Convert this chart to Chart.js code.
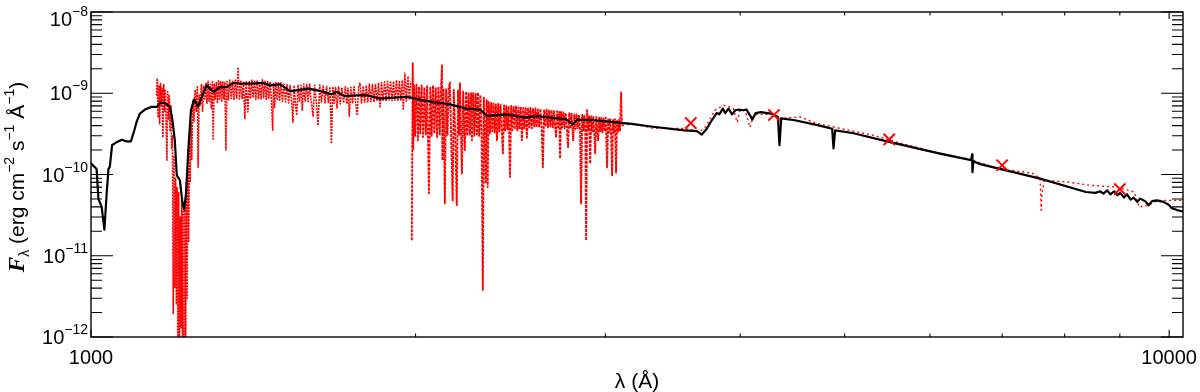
<!DOCTYPE html>
<html>
<head>
<meta charset="utf-8">
<script src="https://cdn.jsdelivr.net/npm/chart.js@4/dist/chart.umd.min.js"></script>
<style>
html,body{margin:0;padding:0;background:#fff;}
#wrap{width:1200px;height:392px;position:relative;}
canvas{display:block;}
</style>
</head>
<body>
<div id="wrap"><canvas id="c" width="1200" height="392"></canvas></div>
<script>
// ---------- DATA (wavelength in Å, flux in erg cm^-2 s^-1 Å^-1) ----------
const xTickLabels = ["1000", "10000"];
const xMajorTicks = [1000, 10000];
const xMinorTicks = [2000, 3000, 4000, 5000, 6000, 7000, 8000, 9000];
const yMajorTicks = [1e-8, 1e-9, 1e-10, 1e-11, 1e-12];
const yTickExponents = ["\u22128", "\u22129", "\u221210", "\u221211", "\u221212"];

// photometric points (red crosses)
const photWave = [3600, 4300, 5500, 7000, 9000];
const photFlux = [4.3e-10, 5.4e-10, 2.7e-10, 1.3e-10, 6.6e-11];

// model spectrum (black)
const modelSpectrum = [
[1000,1.37e-10],[1012,1.17e-10],[1016,5.0e-11],[1023,4.0e-11],[1029,2.1e-11],[1034,5.8e-11],[1038,1.17e-10],
[1041,1.24e-10],[1046,2.29e-10],[1056,2.5e-10],[1068,2.68e-10],[1079,2.55e-10],[1089,2.55e-10],[1097,3.5e-10],
[1102,4.4e-10],[1110,5.6e-10],[1122,6.3e-10],[1138,6.8e-10],[1151,6.8e-10],[1159,7.6e-10],[1171,7.6e-10],
[1184,6.8e-10],[1190,4.65e-10],[1196,2.64e-10],[1201,9.8e-11],[1209,8.5e-11],[1215,4.8e-11],[1220,3.7e-11],
[1225,5.8e-11],[1231,2.0e-10],[1238,6.2e-10],[1246,8.35e-10],[1257,6.9e-10],[1266,8.85e-10],[1280,1.25e-9],
[1299,1.04e-9],[1317,1.19e-9],[1336,1.19e-9],[1355,1.34e-9],[1384,1.31e-9],[1409,1.31e-9],[1445,1.34e-9],
[1466,1.25e-9],[1497,1.29e-9],[1530,1.06e-9],[1557,1.09e-9],[1590,1.14e-9],[1631,1.07e-9],[1671,9.7e-10],
[1690,1.04e-9],[1720,9.2e-10],[1764,9.44e-10],[1802,9.44e-10],[1854,8.6e-10],[1907,8.85e-10],[1970,9.0e-10],
[2019,8.35e-10],[2078,7.77e-10],[2152,7.3e-10],[2230,6.48e-10],[2295,6.3e-10],[2331,5.23e-10],[2363,5.35e-10],
[2430,5.5e-10],[2520,5.02e-10],[2592,5.23e-10],[2665,5.02e-10],[2754,4.83e-10],[2800,4.15e-10],[2825,4.74e-10],
[2930,4.65e-10],[3018,4.47e-10],[3173,4.2e-10],[3306,3.9e-10],[3550,3.5e-10],[3648,3.42e-10],[3686,3.1e-10],
[3725,3.66e-10],[3765,4.65e-10],[3805,5.7e-10],[3826,5.5e-10],[3855,6.48e-10],[3874,5.7e-10],[3902,6.48e-10],
[3931,5.5e-10],[3960,6.17e-10],[3988,6.3e-10],[4026,6.17e-10],[4055,6.3e-10],[4085,5.35e-10],[4106,4.74e-10],
[4136,5.7e-10],[4181,5.85e-10],[4273,5.6e-10],[4336,5.1e-10],[4351,2.29e-10],[4367,4.9e-10],[4496,4.65e-10],
[4730,4.03e-10],[4869,3.66e-10],[4883,2.1e-10],[4900,3.5e-10],[5085,3.24e-10],[5510,2.5e-10],[6129,1.81e-10],
[6553,1.5e-10],[6564,1.77e-10],[6570,1.07e-10],[6584,1.46e-10],[6679,1.34e-10],[7592,8.9e-11],[8370,6.09e-11],
[8540,5.95e-11],[8630,6.2e-11],[8690,5.82e-11],[8760,6.39e-11],[8820,5.7e-11],[8890,6.2e-11],[8960,5.55e-11],
[9007,5.95e-11],[9080,5.2e-11],[9140,5.7e-11],[9210,4.9e-11],[9270,5.2e-11],[9340,4.6e-11],[9400,5.05e-11],
[9500,4.7e-11],[9570,4.18e-11],[9640,4.7e-11],[9740,4.81e-11],[9880,4.6e-11],[9990,4.25e-11],[10060,3.85e-11],
[10170,3.65e-11],[10300,3.5e-11]
];

// observed far-UV spectrum (red dotted)
const uvShortSpectrum = [
[1150,9.4e-10],[1152,1.53e-9],[1154,5.0e-10],[1156,1.25e-9],[1158,4.2e-10],[1160,1.33e-9],[1162,7.0e-10],
[1164,1.15e-9],[1166,2.85e-10],[1168,1.28e-9],[1170,6.0e-10],[1172,1.12e-9],[1174,4.0e-10],[1176,1.5e-10],
[1178,1.05e-9],[1180,4.8e-10],[1182,9.6e-10],[1184,3.4e-10],[1186,7.2e-10],[1188,2.1e-10],[1190,3.0e-10],
[1192,1.9e-12],[1194,1.7e-10],[1196,4.0e-12],[1198,9.0e-11],[1200,2.5e-12],[1202,7.0e-11],[1204,6e-13],
[1206,6.0e-11],[1208,7e-13],[1210,3.0e-11],[1212,1.3e-12],[1214,5.0e-11],[1216,6e-13],[1218,3.5e-11],
[1220,8e-13],[1222,4.0e-11],[1224,6e-13],[1226,8.0e-11],[1228,3.0e-12],[1230,1.2e-10],[1232,1.5e-11],
[1234,2.5e-10],[1236,8.0e-11],[1238,4.5e-10],[1240,1.5e-10],[1243,8.0e-10],[1246,4.5e-10],[1249,1.1e-9],
[1252,6.0e-10],[1255,1.2e-9],[1257,1.23e-10],[1260,9.5e-10],[1263,7.0e-10],[1266,1.3e-9],[1269,6.0e-10],
[1272,1.25e-9],[1275,8.5e-10],[1278,1.35e-9],[1281,7.5e-10],[1284,1.4e-9],[1287,8.0e-10],[1290,1.3e-9],
[1293,6.5e-10],[1296,1.38e-9],[1298,2.64e-10],[1301,1.3e-9],[1304,8.5e-10],[1307,1.35e-9],[1310,7.5e-10],
[1313,1.42e-9],[1316,8.2e-10],[1319,1.38e-9],[1322,7.8e-10],[1325,1.4e-9],[1328,8.5e-10],[1331,1.35e-9],
[1334,2.0e-10],[1337,1.4e-9],[1341,8.3e-10],[1345,1.45e-9],[1349,8.6e-10],[1353,1.4e-9],[1357,8.4e-10],
[1361,1.45e-9],[1365,8.7e-10],[1369,2.09e-9],[1373,8.5e-10],[1377,1.4e-9],[1381,8.6e-10],[1385,1.4e-9],
[1389,4.9e-10],[1393,1.38e-9],[1398,5.9e-10],[1402,1.42e-9],[1406,8.5e-10],[1410,1.45e-9],[1414,8.8e-10],
[1418,1.4e-9],[1422,8.4e-10],[1426,1.45e-9],[1430,8.6e-10],[1434,1.4e-9],[1438,8.5e-10],[1442,1.46e-9],
[1446,8.8e-10],[1450,1.4e-9],[1454,8.4e-10],[1458,1.42e-9],[1462,8.7e-10],[1466,1.38e-9],[1470,8.3e-10],
[1474,3.5e-10],[1477,1.35e-9],[1480,6.7e-10],[1484,1.38e-9],[1488,8.2e-10],[1492,1.34e-9],[1496,8.0e-10],
[1500,1.36e-9],[1505,7.9e-10],[1510,1.3e-9],[1515,7.8e-10],[1520,1.28e-9],[1525,7.6e-10],[1530,1.25e-9],
[1535,7.8e-10],[1539,4.4e-10],[1543,1.25e-9],[1547,7.7e-10],[1552,5.35e-10],[1556,1.27e-9],[1561,7.8e-10],
[1566,1.25e-9],[1570,6.2e-10],[1575,1.3e-9],[1580,8.0e-10],[1585,1.28e-9],[1590,7.9e-10],[1595,1.3e-9],
[1600,8.2e-10],[1607,5.2e-10],[1612,1.25e-9],[1618,8.0e-10],[1624,4.0e-10],[1630,1.27e-9],[1636,7.8e-10],
[1642,1.25e-9],[1648,7.6e-10],[1654,1.22e-9],[1660,7.7e-10],[1666,1.2e-9],[1671,2.4e-10],[1676,1.2e-9],
[1681,7.5e-10],[1686,1.18e-9],[1691,6.6e-10],[1697,1.2e-9],[1703,7.4e-10],[1709,1.17e-9],[1715,7.6e-10],
[1721,1.2e-9],[1727,7.4e-10],[1731,1.16e-9],[1736,5.2e-10],[1742,1.18e-9],[1748,7.5e-10],[1754,1.2e-9],
[1760,7.6e-10],[1766,5.35e-10],[1771,1.2e-9],[1776,1.33e-9],[1782,7.6e-10],[1788,1.22e-9],[1794,7.7e-10],
[1800,1.25e-9],[1806,7.8e-10],[1812,1.3e-9],[1818,7.9e-10],[1824,1.28e-9],[1830,7.8e-10],[1836,1.3e-9],
[1842,8.0e-10],[1848,1.32e-9],[1854,6.6e-10],[1860,1.35e-9],[1866,8.2e-10],[1872,1.38e-9],[1878,8.0e-10],
[1884,1.4e-9],[1890,8.3e-10],[1896,1.42e-9],[1902,8.1e-10],[1908,1.4e-9],[1914,8.2e-10],[1920,1.45e-9],
[1926,8.0e-10],[1932,1.42e-9],[1938,8.2e-10],[1944,1.45e-9],[1948,6.2e-10],[1955,1.76e-9],[1961,8.0e-10],
[1968,1.62e-9],[1974,8.2e-10],[1980,1.4e-9]
];

// observed near-UV spectrum (red dotted)
const uvLongSpectrum = [
[1984,1.55e-11],[1988,2.34e-9],[1990,2.0e-10],[1994,1.25e-9],[1998,3.0e-10],[2004,1.28e-9],[2010,2.64e-10],
[2015,1.2e-9],[2020,3.2e-10],[2026,1.25e-9],[2032,2.9e-10],[2038,1.18e-9],[2044,3.1e-10],[2050,1.22e-9],
[2058,5.9e-11],[2064,1.2e-9],[2070,3.0e-10],[2076,1.25e-9],[2082,3.2e-10],[2088,1.15e-9],[2094,2.9e-10],
[2100,1.2e-9],[2106,3.1e-10],[2112,1.18e-9],[2116,2.21e-9],[2118,1.5e-10],[2123,1.15e-9],[2129,4.4e-11],
[2135,1.12e-9],[2141,3.0e-10],[2147,1.15e-9],[2152,1.36e-9],[2158,2.9e-10],[2165,4.8e-11],[2170,1.1e-9],
[2177,3.0e-10],[2184,4.2e-11],[2190,1.08e-9],[2195,3.1e-10],[2199,1.33e-9],[2204,2.9e-10],[2208,1.03e-10],
[2214,1.05e-9],[2222,2.0e-10],[2228,1.05e-9],[2234,3.0e-10],[2240,1.02e-9],[2246,3.1e-10],[2252,1.0e-9],
[2256,2.64e-10],[2262,1.0e-9],[2268,3.0e-10],[2274,9.8e-10],[2280,3.1e-10],[2285,1.02e-9],[2291,3.0e-10],
[2297,9.5e-10],[2303,3.2e-10],[2309,3.8e-12],[2314,8.8e-10],[2318,3.2e-10],[2323,7.8e-11],[2328,8.2e-10],
[2333,7.0e-11],[2338,7.8e-10],[2344,3.2e-10],[2350,7.6e-10],[2356,3.4e-10],[2362,7.5e-10],[2368,3.3e-10],
[2374,7.3e-10],[2380,2.64e-10],[2386,7.4e-10],[2392,3.4e-10],[2398,7.2e-10],[2404,3.5e-10],[2410,1.82e-10],
[2416,7.1e-10],[2422,3.4e-10],[2428,7.0e-10],[2434,3.6e-10],[2440,6.9e-10],[2447,9.3e-11],[2453,7.0e-10],
[2459,3.5e-10],[2466,6.8e-10],[2472,3.6e-10],[2478,6.9e-10],[2485,3.5e-10],[2491,6.7e-10],[2497,3.7e-10],
[2504,6.8e-10],[2510,2.64e-10],[2517,6.6e-10],[2523,3.7e-10],[2530,6.7e-10],[2537,2.85e-10],[2543,6.5e-10],
[2550,3.8e-10],[2556,6.6e-10],[2563,3.7e-10],[2570,6.4e-10],[2577,3.9e-10],[2583,6.5e-10],[2590,3.8e-10],
[2597,6.3e-10],[2604,3.9e-10],[2611,6.4e-10],[2618,3.8e-10],[2625,1.23e-10],[2632,6.2e-10],[2639,3.9e-10],
[2646,6.3e-10],[2653,3.8e-10],[2660,6.1e-10],[2667,3.9e-10],[2674,6.2e-10],[2681,3.8e-10],[2688,6.0e-10],
[2694,3.9e-10],[2700,2.85e-10],[2706,6.0e-10],[2712,3.8e-10],[2718,5.9e-10],[2723,1.58e-10],[2729,5.9e-10],
[2735,3.8e-10],[2742,5.8e-10],[2749,3.7e-10],[2756,5.7e-10],[2763,3.8e-10],[2770,2.17e-10],[2777,5.7e-10],
[2784,3.7e-10],[2791,5.6e-10],[2800,2.64e-10],[2807,5.5e-10],[2814,3.6e-10],[2821,5.5e-10],[2828,3.7e-10],
[2835,5.4e-10],[2842,3.6e-10],[2848,4.4e-11],[2855,5.4e-10],[2862,3.5e-10],[2868,5.3e-10],[2874,3.4e-10],
[2879,1.55e-11],[2885,6.2e-10],[2891,3.5e-10],[2897,5.2e-10],[2904,1.36e-10],[2910,5.2e-10],[2917,3.4e-10],
[2923,5.1e-10],[2929,3.5e-10],[2935,1.82e-10],[2942,5.1e-10],[2948,3.4e-10],[2954,2.64e-10],[2960,5.0e-10],
[2967,3.4e-10],[2974,5.0e-10],[2981,3.3e-10],[2988,4.9e-10],[2995,3.4e-10],[3002,5.0e-10],[3011,1.23e-10],
[3018,4.9e-10],[3024,3.3e-10],[3030,4.8e-10],[3036,3.4e-10],[3043,9.8e-11],[3049,4.8e-10],[3055,3.3e-10],
[3062,4.8e-10],[3069,1.06e-10],[3075,4.7e-10],[3082,3.3e-10],[3088,4.7e-10],[3095,3.4e-10],[3102,1.02e-9],
[3108,4.0e-10]
];

// observed optical spectrum (red dotted)
const opticalSpectrum = [
[3108,4.0e-10],[3182,4.24e-10],[3322,3.7e-10],[3541,3.7e-10],[3672,3.4e-10],[3719,3.9e-10],[3767,5.35e-10],
[3791,6.17e-10],[3833,6.7e-10],[3866,7.1e-10],[3899,6.9e-10],[3941,6.5e-10],[3975,4.4e-10],[4000,6.17e-10],
[4043,6.17e-10],[4085,3.8e-10],[4120,5.5e-10],[4305,5.5e-10],[4356,4.9e-10],[4547,5.1e-10],[4715,4.24e-10],
[4952,3.7e-10],[5316,3.04e-10],[5630,2.43e-10],[6062,1.89e-10],[6540,1.52e-10],[6970,1.17e-10],[7465,1.04e-10],
[7592,9.0e-11],[7608,3.63e-11],[7620,5.9e-11],[7660,8.5e-11],[8040,8.1e-11],[8450,7.36e-11],[8940,7.0e-11],
[9280,6.09e-11],[9380,3.98e-11],[9570,4.18e-11],[9760,4.81e-11],[10300,4.81e-11]
];

// ---------- CHART ----------
const toXY = arr => arr.map(p => ({x: p[0], y: p[1]}));
const RED = '#ff0000';
const FONT = '"Liberation Sans", Arial, Helvetica, sans-serif';

const uvShortStyle = {
  borderColor: RED, borderWidth: 1.6, borderDash: [2, 1], pointRadius: 0,
  borderJoinStyle: 'round', tension: 0, fill: false
};
const uvLongStyle = {
  borderColor: RED, borderWidth: 1.9, borderDash: [3, 1], pointRadius: 0,
  borderJoinStyle: 'round', tension: 0, fill: false
};
const optRedStyle = {
  borderColor: RED, borderWidth: 1.4, borderDash: [2, 3], pointRadius: 0,
  borderJoinStyle: 'round', tension: 0, fill: false
};

const idlAxes = {
  id: 'idlAxes',
  afterDatasetsDraw(chart) {
    const ctx = chart.ctx, a = chart.chartArea, xs = chart.scales.x, ys = chart.scales.y;
    ctx.save();
    ctx.strokeStyle = '#000';
    ctx.lineWidth = 1.4;
    ctx.strokeRect(a.left, a.top, a.right - a.left, a.bottom - a.top);
    ctx.lineWidth = 1.1;
    ctx.beginPath();
    yMajorTicks.forEach(v => {
      const py = ys.getPixelForValue(v);
      ctx.moveTo(a.left, py); ctx.lineTo(a.left + 22, py);
      ctx.moveTo(a.right, py); ctx.lineTo(a.right - 22, py);
    });
    yMajorTicks.slice(1).forEach(d => {
      for (let m = 2; m <= 9; m++) {
        const py = ys.getPixelForValue(d * m);
        ctx.moveTo(a.left, py); ctx.lineTo(a.left + 11, py);
        ctx.moveTo(a.right, py); ctx.lineTo(a.right - 11, py);
      }
    });
    xMajorTicks.forEach(v => {
      const px = xs.getPixelForValue(v);
      ctx.moveTo(px, a.bottom); ctx.lineTo(px, a.bottom - 7);
      ctx.moveTo(px, a.top); ctx.lineTo(px, a.top + 7);
    });
    xMinorTicks.forEach(v => {
      const px = xs.getPixelForValue(v);
      ctx.moveTo(px, a.bottom); ctx.lineTo(px, a.bottom - 3.5);
      ctx.moveTo(px, a.top); ctx.lineTo(px, a.top + 3.5);
    });
    ctx.stroke();

    ctx.fillStyle = '#000';
    ctx.textBaseline = 'alphabetic';
    const mainF = '20px ' + FONT, supF = '14px ' + FONT;
    yMajorTicks.forEach((v, i) => {
      const py = ys.getPixelForValue(v);
      ctx.font = supF; const ws = ctx.measureText(yTickExponents[i]).width;
      ctx.font = mainF; const wm = ctx.measureText('10').width;
      const right = a.left - 3;
      const base = Math.max(py + 7, a.top + 14);
      ctx.textAlign = 'left';
      ctx.fillText('10', right - ws - wm, base);
      ctx.font = supF;
      ctx.fillText(yTickExponents[i], right - ws, base - 10);
    });
    ctx.font = mainF; ctx.textAlign = 'center';
    xMajorTicks.forEach((v, i) => {
      ctx.fillText(xTickLabels[i], xs.getPixelForValue(v), a.bottom + 27);
    });

    ctx.font = '21px ' + FONT;
    ctx.fillText('\u03bb (\u00c5)', (a.left + a.right) / 2, 388);

    const parts = [
      {t: 'F', f: 'bold italic 23px "Liberation Serif", serif', dy: 0},
      {t: '\u03bb', f: '14px ' + FONT, dy: 5},
      {t: ' (erg cm', f: '21px ' + FONT, dy: 0},
      {t: '\u22122', f: '14px ' + FONT, dy: -10},
      {t: ' s', f: '21px ' + FONT, dy: 0},
      {t: '\u22121', f: '14px ' + FONT, dy: -10},
      {t: ' \u00c5', f: '21px ' + FONT, dy: 0},
      {t: '\u22121', f: '14px ' + FONT, dy: -10},
      {t: ')', f: '21px ' + FONT, dy: 0}
    ];
    let total = 0;
    parts.forEach(p => { ctx.font = p.f; p.w = ctx.measureText(p.t).width; total += p.w; });
    ctx.translate(24, 177);
    ctx.rotate(-Math.PI / 2);
    ctx.textAlign = 'left';
    let cx = -total / 2;
    parts.forEach(p => { ctx.font = p.f; ctx.fillText(p.t, cx, p.dy); cx += p.w; });
    ctx.restore();
  }
};

new Chart(document.getElementById('c'), {
  type: 'line',
  data: {
    datasets: [
      {label: 'photometry', data: photWave.map((w, i) => ({x: w, y: photFlux[i]})), showLine: false,
       pointStyle: 'crossRot', pointRadius: 8, pointBorderWidth: 2, borderColor: RED, backgroundColor: RED,
       pointBorderColor: RED},
      {label: 'model', data: toXY(modelSpectrum), borderColor: '#000', borderWidth: 2.2, pointRadius: 0,
       borderJoinStyle: 'round', tension: 0, fill: false},
      Object.assign({label: 'UV short', data: toXY(uvShortSpectrum)}, uvShortStyle),
      Object.assign({label: 'UV long', data: toXY(uvLongSpectrum)}, uvLongStyle),
      Object.assign({label: 'optical', data: toXY(opticalSpectrum)}, optRedStyle)
    ]
  },
  options: {
    responsive: false,
    animation: false,
    devicePixelRatio: 1,
    layout: {padding: {left: 91, right: 17, top: 12, bottom: 55}},
    plugins: {legend: {display: false}, tooltip: {enabled: false}},
    scales: {
      x: {type: 'logarithmic', min: 1000, max: 10300, display: false},
      y: {type: 'logarithmic', min: 1e-12, max: 1e-8, display: false}
    }
  },
  plugins: [idlAxes]
});
</script>
</body>
</html>
